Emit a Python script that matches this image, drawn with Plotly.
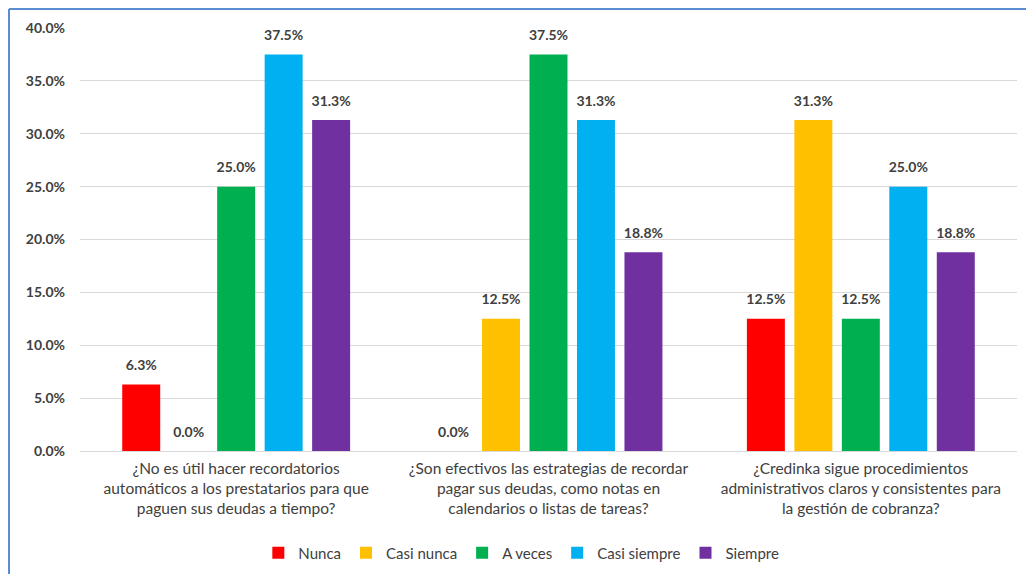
import plotly.graph_objects as go

# Survey questions (x categories)
preguntas = [
    "¿No es útil hacer recordatorios<br>automáticos a los prestatarios para que<br>paguen sus deudas a tiempo?",
    "¿Son efectivos las estrategias de recordar<br>pagar sus deudas, como notas en<br>calendarios o listas de tareas?",
    "¿Credinka sigue procedimientos<br>administrativos claros y consistentes para<br>la gestión de cobranza?",
]

# Response share per answer option
nunca = [0.063, 0.0, 0.125]
casi_nunca = [0.0, 0.125, 0.313]
a_veces = [0.25, 0.375, 0.125]
casi_siempre = [0.375, 0.313, 0.25]
siempre = [0.313, 0.188, 0.188]

series = [
    ("Nunca", nunca, "#FF0000"),
    ("Casi nunca", casi_nunca, "#FFC000"),
    ("A veces", a_veces, "#00B050"),
    ("Casi siempre", casi_siempre, "#00B0F0"),
    ("Siempre", siempre, "#7030A0"),
]

FONT = "Lato"
TEXT_COLOR = "#404040"
GAP = 0.24

fig = go.Figure()
for i, (name, vals, color) in enumerate(series):
    fig.add_trace(go.Bar(
        x=preguntas,
        y=vals,
        name=name,
        offsetgroup=str(i),
        marker=dict(color=color, line=dict(width=0)),
        hoverinfo="x+y+name",
    ))

# Value labels, grouped alongside the bars so each sits above its own bar
for i, (name, vals, color) in enumerate(series):
    fig.add_trace(go.Scatter(
        x=preguntas,
        y=vals,
        mode="markers+text",
        offsetgroup=str(i),
        marker=dict(size=16, opacity=0),
        text=[f"{v:.1%}" for v in vals],
        textposition="top center",
        textfont=dict(family=FONT, size=14, color=TEXT_COLOR, weight="bold"),
        cliponaxis=False,
        showlegend=False,
        hoverinfo="skip",
    ))

fig.update_layout(
    width=1026,
    height=574,
    barmode="group",
    bargap=GAP,
    bargroupgap=0.2,
    scattermode="group",
    scattergap=GAP,
    plot_bgcolor="white",
    paper_bgcolor="white",
    margin=dict(l=80, r=9, t=28, b=123, autoexpand=False),
    font=dict(family=FONT, color=TEXT_COLOR),
    xaxis=dict(
        tickfont=dict(family=FONT, size=15.5, color=TEXT_COLOR),
        showline=False,
        showgrid=False,
        automargin=False,
        ticklabelstandoff=6,
    ),
    yaxis=dict(
        range=[0, 0.4],
        dtick=0.05,
        tickformat=".1%",
        tickfont=dict(family=FONT, size=14, color=TEXT_COLOR, weight="bold"),
        showgrid=True,
        gridcolor="#D9D9D9",
        gridwidth=1,
        zeroline=True,
        zerolinecolor="#D9D9D9",
        zerolinewidth=1,
        ticklabelstandoff=14,
        automargin=False,
    ),
    legend=dict(
        orientation="h",
        x=0.471,
        xanchor="center",
        yref="container",
        y=1 - 553 / 574,
        yanchor="middle",
        font=dict(family=FONT, size=15, color=TEXT_COLOR),
        itemwidth=30,
        traceorder="normal",
    ),
    showlegend=True,
)

# Chart frame (left and top edges)
top = (574 - 123 - 9) / 423
left = -71 / 937
fig.add_shape(type="line", xref="paper", yref="paper",
              x0=left, x1=1.01, y0=top, y1=top,
              line=dict(color="#5B8BD0", width=2))
fig.add_shape(type="line", xref="paper", yref="paper",
              x0=left, x1=left, y0=-124 / 423, y1=top,
              line=dict(color="#5B8BD0", width=2))

fig.write_html("out.html")
